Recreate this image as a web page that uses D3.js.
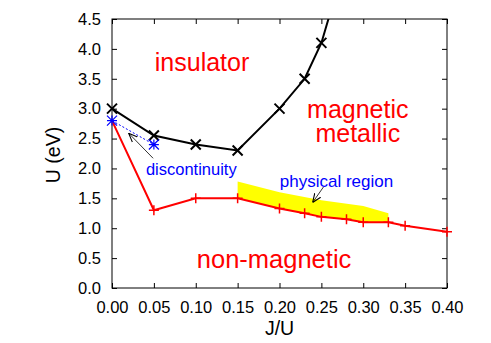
<!DOCTYPE html>
<html>
<head>
<meta charset="utf-8">
<script src="https://cdn.jsdelivr.net/npm/d3@7"></script>
<style>
  body { margin: 0; background: #fff; }
  text { font-family: "Liberation Sans", Arial, sans-serif; }
</style>
</head>
<body>
<div id="chart"></div>
<script>
// data
const jBlack = [0, 0.05, 0.10, 0.15, 0.20, 0.23, 0.25, 0.27];
const uBlack = [3.0, 2.55, 2.4, 2.3, 3.0, 3.5, 4.1, 5.05];

const jBlue = [0, 0.05];
const uBlue = [2.8, 2.4];

const jRed = [0, 0.05, 0.10, 0.15, 0.20, 0.23, 0.25, 0.28, 0.30, 0.33, 0.35, 0.40];
const uRed = [2.8, 1.3, 1.5, 1.5, 1.33, 1.25, 1.19, 1.15, 1.1, 1.1, 1.04, 0.94];

const jYellow = [0.15, 0.20, 0.25, 0.30, 0.33];
const uYellowTop = [1.78, 1.6, 1.47, 1.37, 1.25];

const xTicks = [0, 0.05, 0.10, 0.15, 0.20, 0.25, 0.30, 0.35, 0.40];
const yTicks = [0, 0.5, 1.0, 1.5, 2.0, 2.5, 3.0, 3.5, 4.0, 4.5];

const margin = { top: 19, right: 44, bottom: 55, left: 112 };
const width = 491 - margin.left - margin.right;
const height = 343 - margin.top - margin.bottom;

const svg = d3.select("#chart")
    .append("svg")
    .attr("width", 491)
    .attr("height", 343)
    .append("g")
    .attr("transform", `translate(${margin.left},${margin.top})`);

const x = d3.scaleLinear().domain([0, 0.4]).range([0, width]);
const y = d3.scaleLinear().domain([0, 4.5]).range([height, 0]);

svg.append("defs").append("clipPath")
    .attr("id", "clip")
    .append("rect")
    .attr("x", -20).attr("y", 0)
    .attr("width", width + 40).attr("height", height + 20);

svg.select("defs").append("marker")
    .attr("id", "head")
    .attr("viewBox", "0 0 10 10")
    .attr("refX", 10).attr("refY", 5)
    .attr("markerWidth", 9).attr("markerHeight", 9)
    .attr("markerUnits", "userSpaceOnUse")
    .attr("orient", "auto")
    .append("path")
    .attr("d", "M0,1 L10,5 L0,9")
    .attr("fill", "none")
    .attr("stroke", "#000")
    .attr("stroke-width", 1.2);

// yellow physical region: between upper edge and red line
const redPart = jRed.map((j, i) => [j, uRed[i]]).filter(d => d[0] >= 0.15 && d[0] <= 0.33);
const topPart = jYellow.map((j, i) => [j, uYellowTop[i]]);
const poly = topPart.concat(redPart.slice().reverse());
svg.append("path")
    .attr("d", d3.line().x(d => x(d[0])).y(d => y(d[1]))(poly) + "Z")
    .attr("fill", "#ffff00")
    .attr("stroke", "none");

// axes frame with inward ticks on all sides
svg.append("g")
    .attr("transform", `translate(0,${height})`)
    .call(d3.axisBottom(x).tickValues(xTicks).tickFormat(d3.format(".2f")).tickSizeInner(-5).tickSizeOuter(0).tickPadding(13))
    .call(g => g.select(".domain").remove());
svg.append("g")
    .call(d3.axisTop(x).tickValues(xTicks).tickFormat("").tickSizeInner(-5).tickSizeOuter(0))
    .call(g => g.select(".domain").remove());
svg.append("g")
    .call(d3.axisLeft(y).tickValues(yTicks).tickFormat(d3.format(".1f")).tickSizeInner(-5).tickSizeOuter(0).tickPadding(11))
    .call(g => g.select(".domain").remove());
svg.append("g")
    .attr("transform", `translate(${width},0)`)
    .call(d3.axisRight(y).tickValues(yTicks).tickFormat("").tickSizeInner(-5).tickSizeOuter(0))
    .call(g => g.select(".domain").remove());

svg.selectAll(".tick text")
    .style("font-size", "16.5px")
    .attr("fill", "#000");
svg.selectAll(".tick line").attr("stroke", "#000");

svg.append("rect")
    .attr("width", width).attr("height", height)
    .attr("fill", "none").attr("stroke", "#000").attr("stroke-width", 1);

// lines
const line = d3.line().x(d => x(d[0])).y(d => y(d[1]));
const black = jBlack.map((j, i) => [j, uBlack[i]]);
const blue = jBlue.map((j, i) => [j, uBlue[i]]);
const red = jRed.map((j, i) => [j, uRed[i]]);

svg.append("path")
    .attr("d", line(red))
    .attr("fill", "none").attr("stroke", "#ff0000").attr("stroke-width", 2);
svg.append("path")
    .attr("d", line(blue))
    .attr("fill", "none").attr("stroke", "#0000ff").attr("stroke-width", 1)
    .attr("stroke-dasharray", "2,2");
svg.append("path")
    .attr("clip-path", "url(#clip)")
    .attr("d", line(black))
    .attr("fill", "none").attr("stroke", "#000").attr("stroke-width", 2);

// markers
const s = 5;
svg.selectAll(".plus")
    .data(red.slice(1))
    .enter().append("path")
    .attr("d", d => `M${x(d[0]) - s},${y(d[1])}h${2 * s}M${x(d[0])},${y(d[1]) - s}v${2 * s}`)
    .attr("stroke", "#ff0000").attr("stroke-width", 1.5);
svg.selectAll(".cross")
    .data(black.filter(d => d[1] <= 4.5))
    .enter().append("path")
    .attr("d", d => `M${x(d[0]) - s},${y(d[1]) - s}l${2 * s},${2 * s}M${x(d[0]) - s},${y(d[1]) + s}l${2 * s},${-2 * s}`)
    .attr("stroke", "#000").attr("stroke-width", 2);
svg.selectAll(".star")
    .data(blue)
    .enter().append("path")
    .attr("d", d => `M${x(d[0]) - s},${y(d[1])}h${2 * s}M${x(d[0])},${y(d[1]) - s}v${2 * s}` +
        `M${x(d[0]) - s},${y(d[1]) - s}l${2 * s},${2 * s}M${x(d[0]) - s},${y(d[1]) + s}l${2 * s},${-2 * s}`)
    .attr("stroke", "#0000ff").attr("stroke-width", 1.2);

// arrows
svg.append("line")
    .attr("x1", x(0.0491)).attr("y1", y(2.17))
    .attr("x2", x(0.0199)).attr("y2", y(2.59))
    .attr("stroke", "#000").attr("stroke-width", 0.8)
    .attr("marker-end", "url(#head)");
svg.append("line")
    .attr("x1", x(0.2525)).attr("y1", y(1.69))
    .attr("x2", x(0.2395)).attr("y2", y(1.43))
    .attr("stroke", "#000").attr("stroke-width", 0.8)
    .attr("marker-end", "url(#head)");

// region labels
const label = (t, j, u, size, color) => svg.append("text")
    .attr("x", x(j)).attr("y", y(u))
    .attr("text-anchor", "middle")
    .style("font-size", size)
    .attr("fill", color)
    .text(t);

label("insulator", 0.1075, 3.63, "25px", "#ff0000");
label("non-magnetic", 0.1935, 0.335, "25.5px", "#ff0000");
label("discontinuity", 0.0947, 1.89, "16.5px", "#0000ff");
label("physical region", 0.268, 1.69, "17px", "#0000ff");

// two-line label as one text block
const mm = svg.append("text")
    .attr("text-anchor", "middle")
    .style("font-size", "25px")
    .attr("fill", "#ff0000");
mm.append("tspan").attr("x", x(0.2935)).attr("y", y(2.84)).text("magnetic");
mm.append("tspan").attr("x", x(0.2935)).attr("y", y(2.45)).text("metallic");

// axis titles
svg.append("text")
    .attr("x", width / 2).attr("y", height + 47)
    .attr("text-anchor", "middle")
    .style("font-size", "19.5px")
    .text("J/U");
svg.append("text")
    .attr("transform", "rotate(-90)")
    .attr("x", -(155 - margin.top)).attr("y", 53 - margin.left + 7)
    .attr("text-anchor", "middle")
    .style("font-size", "19.5px")
    .text("U (eV)");
</script>
</body>
</html>
